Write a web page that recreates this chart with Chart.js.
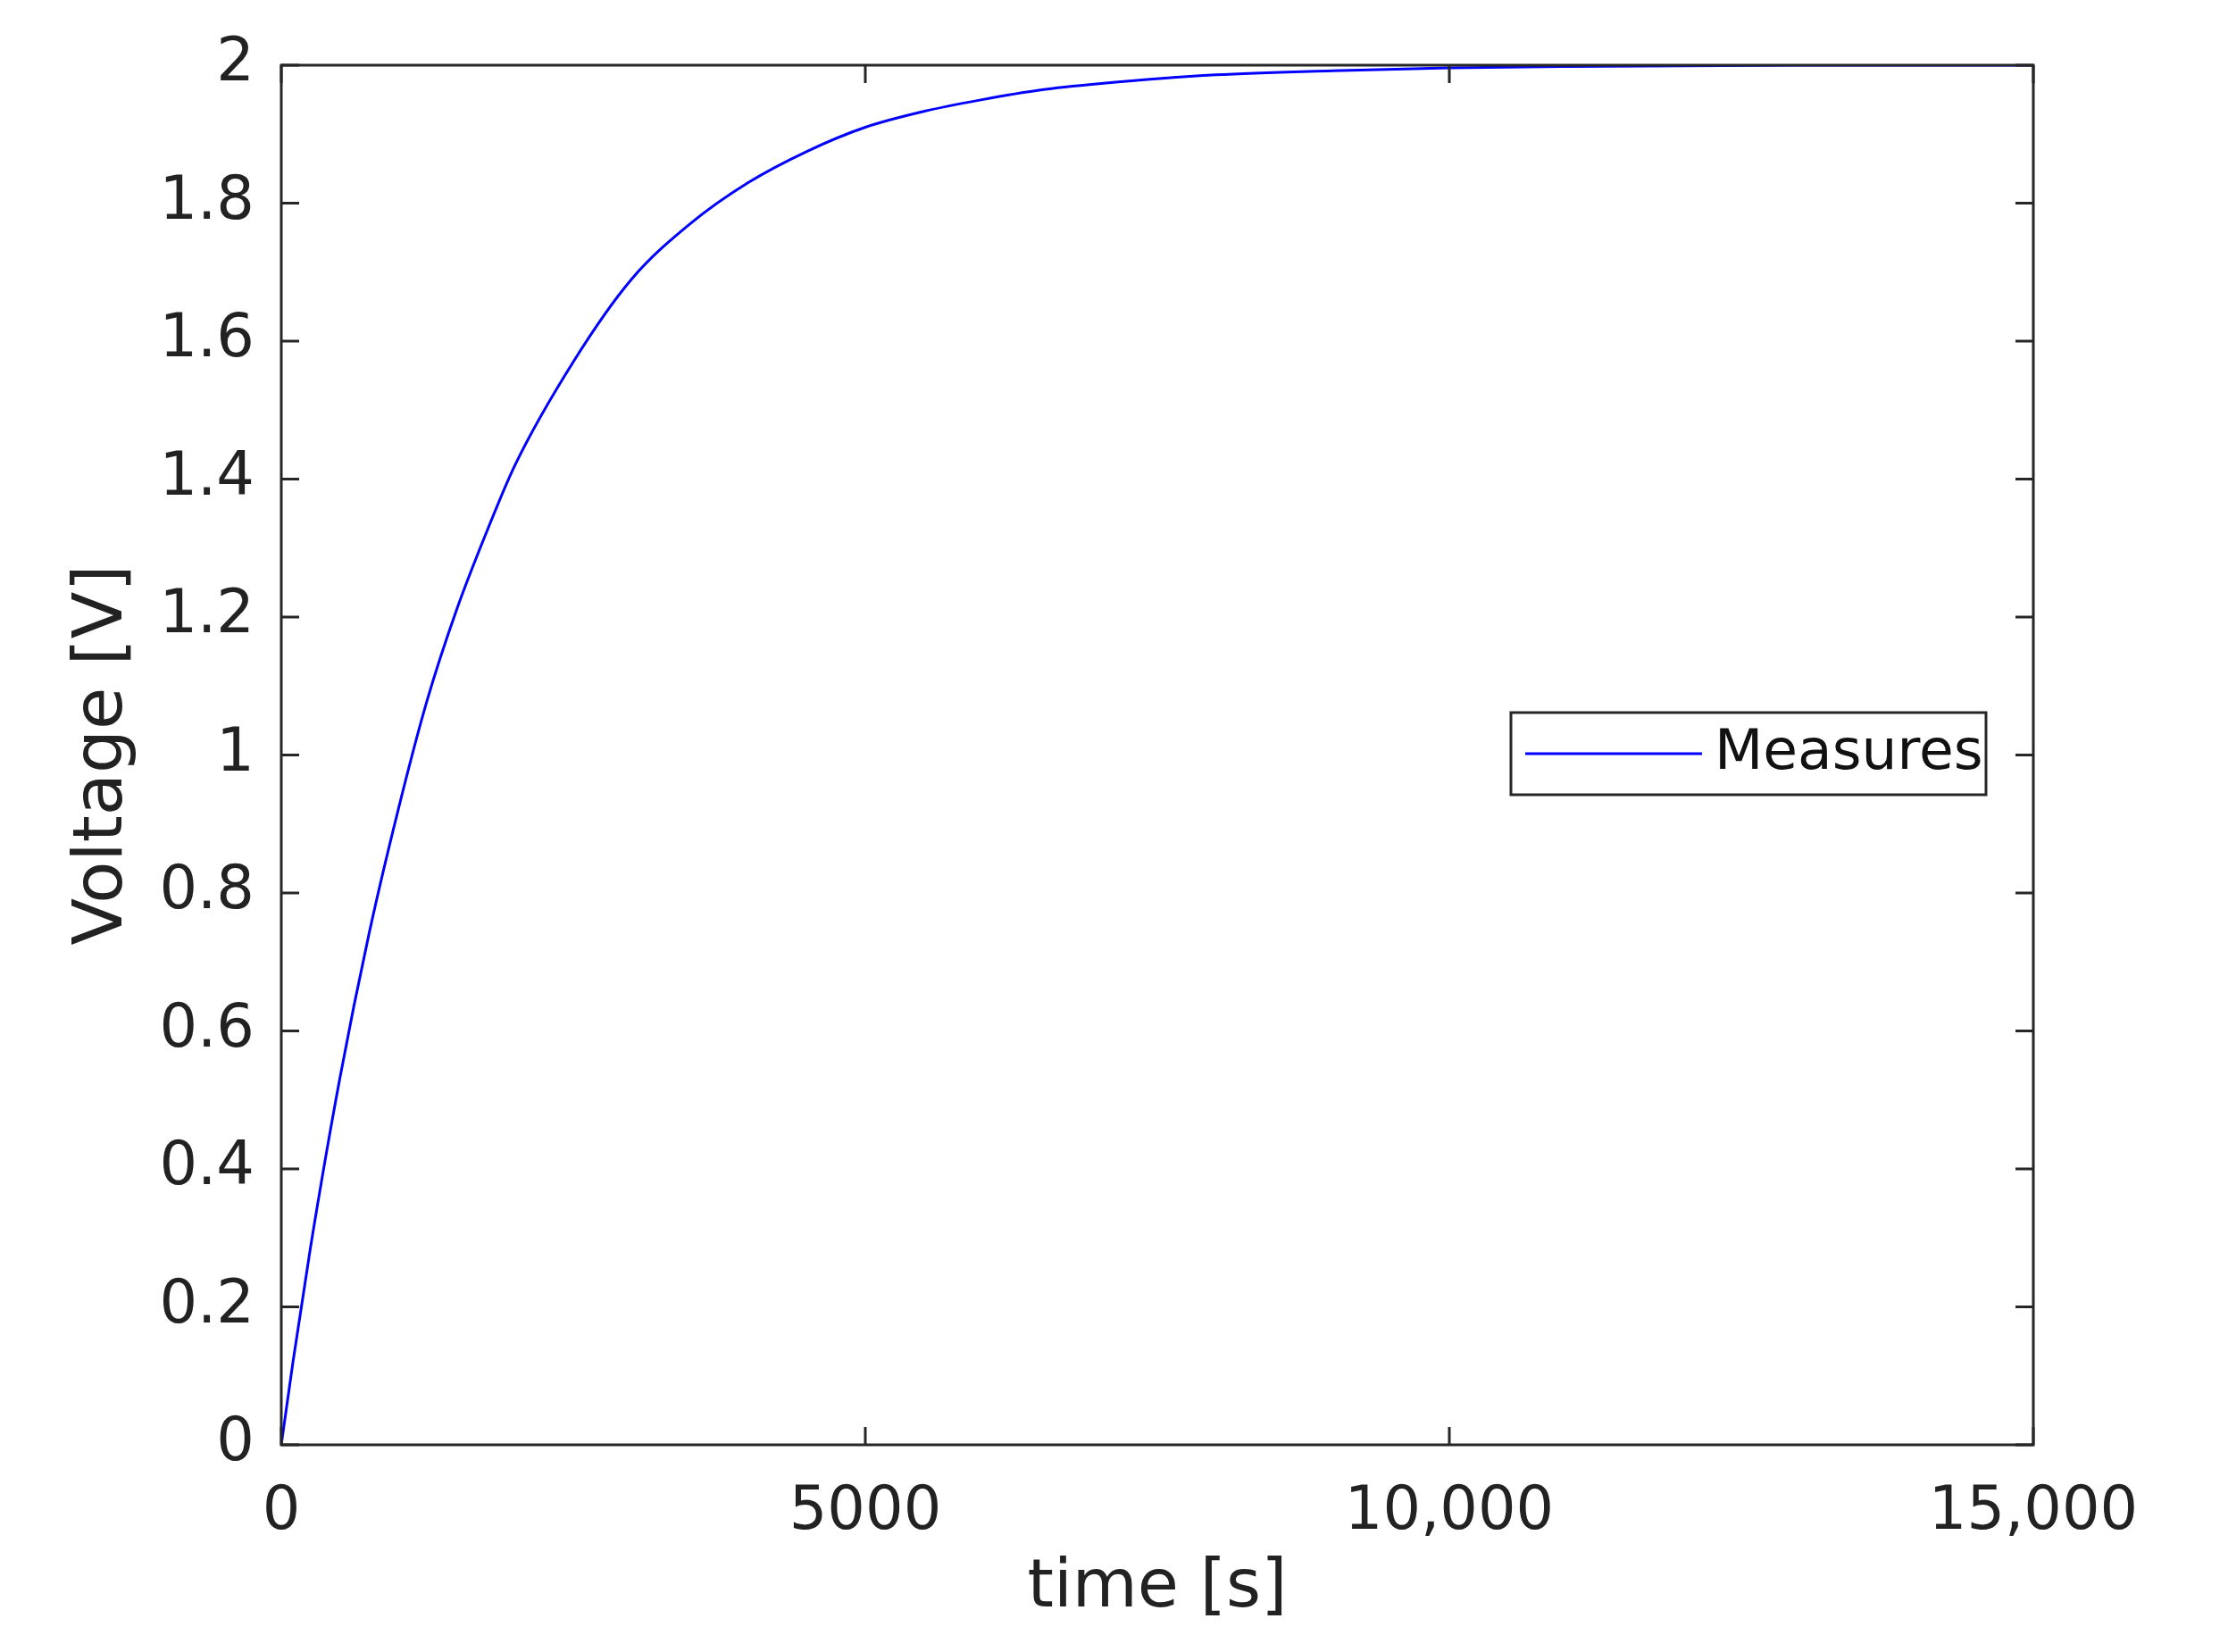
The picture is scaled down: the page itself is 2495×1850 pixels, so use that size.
<!DOCTYPE html>
<html><head><meta charset="utf-8">
<script src="https://cdn.jsdelivr.net/npm/chart.js@4"></script>
<style>html,body{margin:0;padding:0;background:#fff}#c{display:block}</style>
</head><body>
<div style="width:2495px;height:1850px"><canvas id="c" width="2495" height="1850"></canvas></div>
<script>
const timeS = [0,100,250,500,750,1000,1250,1500,1750,2000,2500,3000,3500,4000,4500,5000,5500,6000,6500,7000,8000,9000,10000,11000,12000,13000,14000,15000];
const voltage = [0,0.12,0.286,0.53,0.74,0.92,1.08,1.21,1.32,1.42,1.57,1.69,1.77,1.83,1.875,1.91,1.933,1.95,1.964,1.973,1.986,1.992,1.996,1.998,1.999,2,2,2];
const xTicks = [0,5000,10000,15000];
const yTicks = [0,0.2,0.4,0.6,0.8,1,1.2,1.4,1.6,1.8,2];
const seriesLabel = 'Measures';
const FONT = 'DejaVu Sans';

const frame = {
  id:'frame',
  afterDraw(ch){
    const c=ch.ctx,a=ch.chartArea,x=ch.scales.x,y=ch.scales.y,L=20;
    c.save();c.strokeStyle='#262626';c.lineWidth=3;
    c.strokeRect(a.left,a.top,a.right-a.left,a.bottom-a.top);
    xTicks.forEach(v=>{const p=x.getPixelForValue(v);c.beginPath();c.moveTo(p,a.bottom);c.lineTo(p,a.bottom-L);c.moveTo(p,a.top);c.lineTo(p,a.top+L);c.stroke();});
    yTicks.forEach(v=>{const p=y.getPixelForValue(v);c.beginPath();c.moveTo(a.left,p);c.lineTo(a.left+L,p);c.moveTo(a.right,p);c.lineTo(a.right-L,p);c.stroke();});
    // legend
    const bx=1692,by=798,bw=532,bh=92;
    c.fillStyle='#fff';c.fillRect(bx,by,bw,bh);
    c.strokeStyle='#262626';c.lineWidth=3;c.strokeRect(bx,by,bw,bh);
    c.strokeStyle='#0000ff';c.lineWidth=3;c.beginPath();c.moveTo(bx+16,by+46);c.lineTo(bx+214,by+46);c.stroke();
    c.fillStyle='#111';c.font='63px "'+FONT+'"';c.textBaseline='middle';c.textAlign='left';
    c.fillText(ch.data.datasets[0].label,bx+228,by+47);
    c.restore();
  }
};

new Chart(document.getElementById('c'),{
  type:'line',
  data:{datasets:[{label:seriesLabel,data:timeS.map((t,i)=>({x:t,y:voltage[i]})),borderColor:'#0000ff',borderWidth:3,pointRadius:0,cubicInterpolationMode:'monotone',fill:false}]},
  options:{
    responsive:false,animation:false,
    layout:{padding:{top:73,right:218,left:0,bottom:0}},
    plugins:{legend:{display:false},tooltip:{enabled:false}},
    scales:{
      x:{type:'linear',min:0,max:15000,
        afterBuildTicks:s=>{s.ticks=xTicks.map(v=>({value:v}));},
        afterFit:s=>{s.height=232;},
        grid:{display:false},border:{display:false},
        ticks:{color:'#222',padding:28,maxRotation:0,font:{family:FONT,size:67},callback:v=>v>=10000?v.toLocaleString('en-US'):String(v)},
        title:{display:true,text:'time [s]',color:'#222',font:{family:FONT,size:75},padding:{top:0,bottom:25}}},
      y:{min:0,max:2,
        afterBuildTicks:s=>{s.ticks=yTicks.map(v=>({value:v}));},
        afterFit:s=>{s.width=315;},
        grid:{display:false},border:{display:false},
        ticks:{color:'#222',padding:22,font:{family:FONT,size:67},callback:v=>String(v)},
        title:{display:true,text:'Voltage [V]',color:'#222',font:{family:FONT,size:77},padding:{top:70,bottom:0}}}
    }
  },
  plugins:[frame]
});
</script>
</body></html>
